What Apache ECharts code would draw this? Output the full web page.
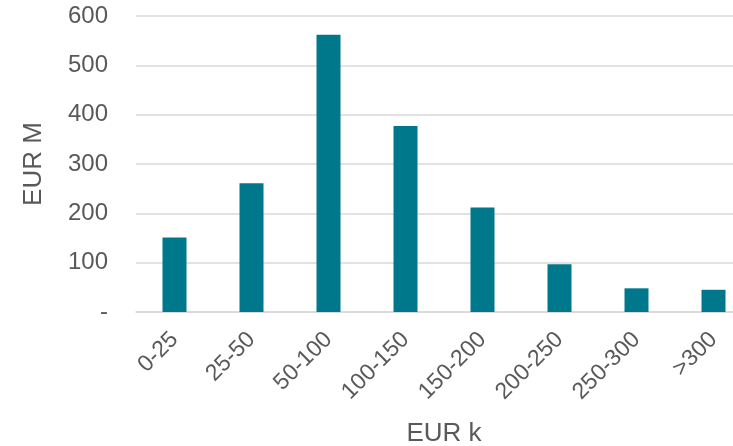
<!DOCTYPE html>
<html>
<head>
<meta charset="utf-8">
<script src="https://cdn.jsdelivr.net/npm/echarts@6/dist/echarts.min.js"></script>
<style>
  html, body { margin: 0; padding: 0; background: #fff; }
  #chart { width: 733px; height: 446px; }
</style>
</head>
<body>
<div id="chart"></div>
<script>
// bands (EUR k) and amounts (EUR M)
var categories = ['0-25', '25-50', '50-100', '100-150', '150-200', '200-250', '250-300', '>300'];
var amounts = [151, 261, 562, 377, 212, 97, 48, 45];
var yTicks = [0, 100, 200, 300, 400, 500, 600];

var txt = '#595959';
var chart = echarts.init(document.getElementById('chart'));
chart.setOption({
  animation: false,
  textStyle: { fontFamily: 'Liberation Sans, Arial, sans-serif' },
  // plot runs off the right edge in the original, so no bounds clamping
  grid: { left: 136, top: 16, width: 616, height: 296, outerBoundsMode: 'none' },
  xAxis: {
    type: 'category',
    data: categories,
    name: 'EUR k',
    nameLocation: 'middle',
    nameGap: 109,
    nameTextStyle: { color: txt, fontSize: 26 },
    axisLine: { lineStyle: { color: '#d9d9d9', width: 1.5 } },
    axisTick: { show: false },
    axisLabel: { color: txt, fontSize: 23, rotate: 45, margin: 24, interval: 0 }
  },
  yAxis: {
    type: 'value',
    min: yTicks[0],
    max: yTicks[yTicks.length - 1],
    interval: 100,
    name: 'EUR M',
    nameLocation: 'middle',
    nameGap: 89,
    nameTextStyle: { color: txt, fontSize: 26 },
    axisLine: { show: false },
    axisTick: { show: false },
    splitLine: { lineStyle: { color: '#d9d9d9', width: 1.5 } },
    axisLabel: {
      color: txt, fontSize: 24, margin: 28,
      formatter: function (v) { return v === 0 ? '-' : v; }
    }
  },
  series: [{
    type: 'bar',
    data: amounts,
    barWidth: 24,
    itemStyle: { color: '#00788c' }
  }]
});
</script>
</body>
</html>
